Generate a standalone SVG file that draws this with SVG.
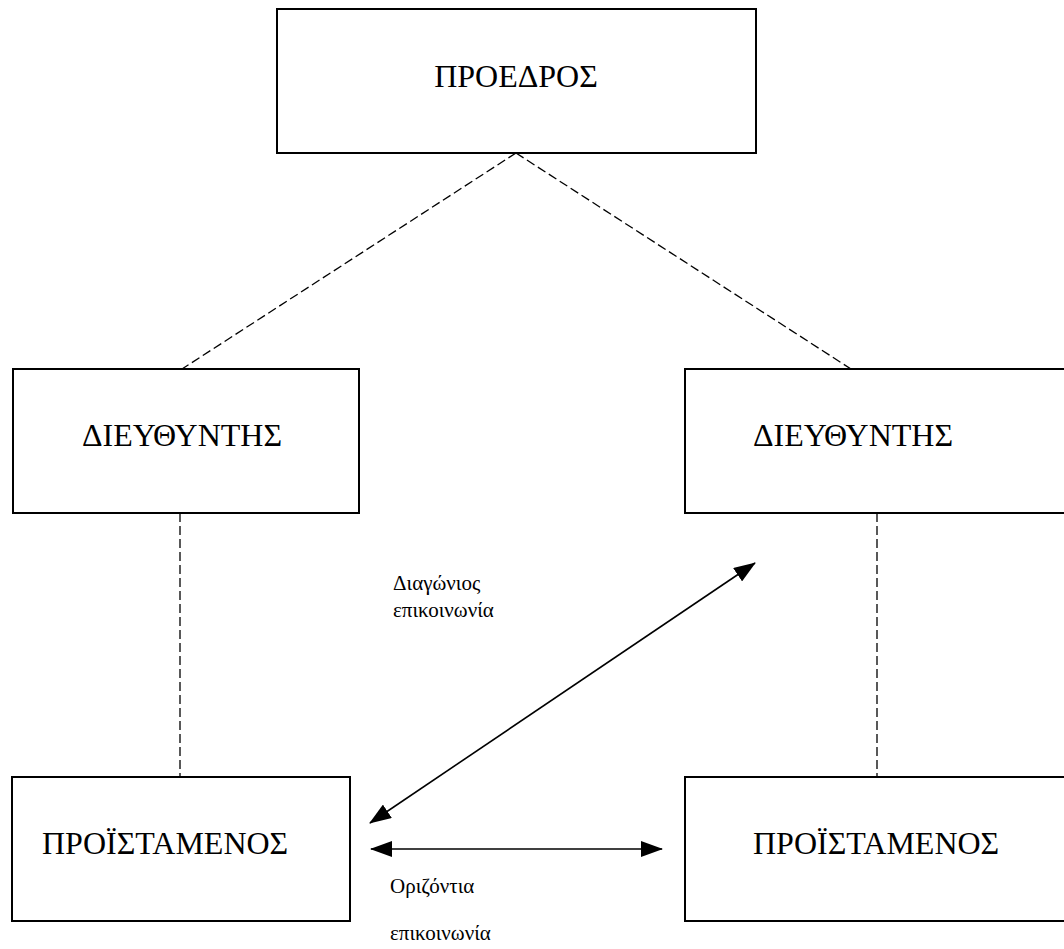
<svg xmlns="http://www.w3.org/2000/svg" width="1064" height="949" viewBox="0 0 1064 949">
  <style>
    .box { fill: #ffffff; stroke: #000000; stroke-width: 2; }
    .title { font-family: "Liberation Serif", "DejaVu Serif", serif; font-size: 32px; fill: #000000; }
    .note { font-family: "Liberation Serif", "DejaVu Serif", serif; font-size: 21px; fill: #000000; }
    .dash { stroke: #000000; stroke-width: 1.3; stroke-dasharray: 9 4; fill: none; }
    .arrow { stroke: #000000; stroke-width: 1.6; fill: none; marker-start: url(#head); marker-end: url(#head); }
  </style>
  <defs>
    <marker id="head" viewBox="0 0 22 16" refX="21" refY="8" markerWidth="22" markerHeight="16" markerUnits="userSpaceOnUse" orient="auto-start-reverse">
      <path d="M0,0 L22,8 L0,16 Z" fill="#000000"/>
    </marker>
  </defs>
  <rect width="1064" height="949" fill="#ffffff"/>

  <g id="connectors">
    <line class="dash" x1="516" y1="153" x2="182" y2="369"/>
    <line class="dash" x1="516" y1="153" x2="851" y2="369"/>
    <line class="dash" x1="180" y1="513" x2="180" y2="777"/>
    <line class="dash" x1="877" y1="513" x2="877" y2="777"/>
    <line class="arrow" x1="370" y1="823" x2="755" y2="563"/>
    <line class="arrow" x1="371" y1="849" x2="662" y2="849"/>
  </g>

  <g id="president">
    <rect class="box" x="277" y="9" width="479" height="144"/>
    <text class="title" x="516" y="87" text-anchor="middle">ΠΡΟΕΔΡΟΣ</text>
  </g>
  <g id="director-left">
    <rect class="box" x="13" y="369" width="346" height="144"/>
    <text class="title" x="82" y="446">ΔΙΕΥΘΥΝΤΗΣ</text>
  </g>
  <g id="director-right">
    <rect class="box" x="685" y="369" width="390" height="144"/>
    <text class="title" x="753" y="446">ΔΙΕΥΘΥΝΤΗΣ</text>
  </g>
  <g id="supervisor-left">
    <rect class="box" x="12" y="777" width="338" height="144"/>
    <text class="title" x="42" y="854">ΠΡΟΪΣΤΑΜΕΝΟΣ</text>
  </g>
  <g id="supervisor-right">
    <rect class="box" x="685" y="777" width="390" height="144"/>
    <text class="title" x="753" y="854">ΠΡΟΪΣΤΑΜΕΝΟΣ</text>
  </g>

  <g id="label-diagonal">
    <text class="note" x="393" y="590">Διαγώνιος</text>
    <text class="note" x="393" y="617">επικοινωνία</text>
  </g>
  <g id="label-horizontal">
    <text class="note" x="390" y="893">Οριζόντια</text>
    <text class="note" x="390" y="940">επικοινωνία</text>
  </g>
</svg>
